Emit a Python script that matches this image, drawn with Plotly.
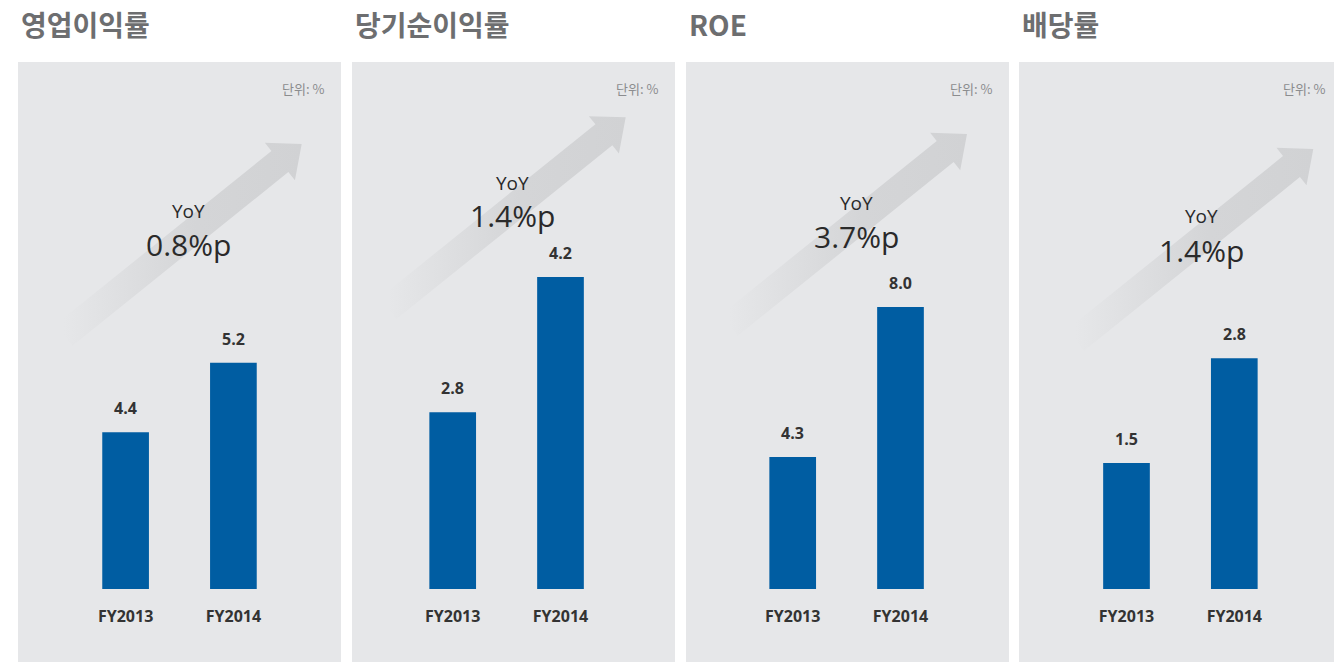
"""
Four small KPI panels (operating margin, net margin, ROE, dividend rate)
FY2013 vs FY2014 with a YoY call-out and a faded arrow behind it.
"""
import math

import plotly.graph_objects as go

W, H = 1334, 662

# data
titles = ["영업이익률", "당기순이익률", "ROE", "배당률"]
years = ["FY2013", "FY2014"]
fy2013 = [4.4, 2.8, 4.3, 1.5]
fy2014 = [5.2, 4.2, 8.0, 2.8]
yoy_text = ["0.8%p", "1.4%p", "3.7%p", "1.4%p"]
unit_text = "단위: %"

# layout per panel (pixels in the 1334x662 page)
panel_left = [18, 352, 686, 1019]
panel_w = 323
panel_top = 62
bar_left = [71.7, 398.8, 738.8, 1072.6]
bar_span = 215.6
plot_bottom, plot_top = 589, 100
y_ranges = [(2.599, 8.220), (0.972, 6.032), (1.044, 13.106), (-0.064, 6.007)]
yoy_pos = [(188, 211, 244), (512.5, 183, 215), (856, 203, 237), (1201, 216, 250)]
arrow_tip = [(301.7, 144), (625.7, 117.3), (967, 134), (1313.3, 149)]

BLUE = "#005da2"
PANEL = "#e6e7e9"
ARROW = "209,210,212"


def px(x):
    return x / W


def py(y):
    return 1 - y / H


def arrow_path(tip, length=305, head_len=28, head_half=24, shaft_half=13.5, angle=38.8):
    """polygon (pixel coords, y down) for an arrow pointing up-right"""
    a = math.radians(angle)
    dx, dy = math.cos(a), -math.sin(a)
    nx, ny = -dy, dx
    tx, ty = tip
    bx, by = tx - head_len * dx, ty - head_len * dy
    ex, ey = tx - length * dx, ty - length * dy
    pts = [
        (tx, ty),
        (bx + head_half * nx, by + head_half * ny),
        (bx + shaft_half * nx, by + shaft_half * ny),
        (ex + shaft_half * nx, ey + shaft_half * ny),
        (ex - shaft_half * nx, ey - shaft_half * ny),
        (bx - shaft_half * nx, by - shaft_half * ny),
        (bx - head_half * nx, by - head_half * ny),
        (tx, ty),
    ]
    return [p[0] for p in pts], [p[1] for p in pts], ex


fig = go.Figure()

# decorative arrows on a full-page pixel axis (drawn first, so underneath)
for tip in arrow_tip:
    xs, ys, tail_x = arrow_path(tip)
    fig.add_trace(go.Scatter(
        x=xs, y=ys, mode="lines", fill="toself",
        line=dict(width=0, color="rgba(0,0,0,0)"),
        fillgradient=dict(
            type="horizontal", start=tail_x, stop=tip[0],
            colorscale=[[0, f"rgba({ARROW},0)"], [0.55, f"rgba({ARROW},0.85)"],
                        [1, f"rgba({ARROW},1)"]],
        ),
        hoverinfo="skip", xaxis="x", yaxis="y",
    ))

annotations = []
shapes = []
layout_axes = dict(
    xaxis=dict(domain=[0, 1], range=[0, W], visible=False, fixedrange=True),
    yaxis=dict(domain=[0, 1], range=[H, 0], visible=False, fixedrange=True),
)

for i in range(4):
    k = i + 2
    lo, hi = y_ranges[i]
    vals = [fy2013[i], fy2014[i]]
    # bars start at the bottom of the (non-zero) axis range
    fig.add_trace(go.Bar(
        x=years, y=[v - lo for v in vals], base=[lo, lo],
        marker_color=BLUE, marker_line_width=0,
        xaxis=f"x{k}", yaxis=f"y{k}", hoverinfo="skip",
    ))
    layout_axes[f"xaxis{k}"] = dict(
        domain=[px(bar_left[i]), px(bar_left[i] + bar_span)], anchor=f"y{k}",
        type="category", showgrid=False, zeroline=False, showline=False,
        ticks="outside", ticklen=13, tickcolor="rgba(0,0,0,0)",
        tickfont=dict(family="Open Sans", size=16, color="#333333", weight="bold"),
    )
    layout_axes[f"yaxis{k}"] = dict(
        domain=[py(plot_bottom), py(plot_top)], anchor=f"x{k}",
        range=[lo, hi], visible=False,
    )

    # panel background
    shapes.append(dict(
        type="rect", xref="paper", yref="paper", layer="below",
        x0=px(panel_left[i]), x1=px(panel_left[i] + panel_w), y0=0, y1=py(panel_top),
        fillcolor=PANEL, line=dict(width=0),
    ))

    # value labels
    for yr, val in zip(years, vals):
        annotations.append(dict(
            xref=f"x{k}", yref=f"y{k}", x=yr, y=val, yshift=24, showarrow=False,
            text=f"{val:.1f}", yanchor="middle",
            font=dict(family="Open Sans", size=16, color="#333333", weight="bold"),
        ))

    # title
    annotations.append(dict(
        xref="paper", yref="paper", x=px(panel_left[i] + 1), y=py(24),
        xanchor="left", yanchor="middle", showarrow=False, text=titles[i],
        font=dict(family="Noto Sans CJK KR", size=28, color="#6d6e70", weight="bold"),
    ))

    # unit
    annotations.append(dict(
        xref="paper", yref="paper", x=px(panel_left[i] + 308), y=py(88),
        xanchor="right", yanchor="middle", showarrow=False, text=unit_text,
        font=dict(family="Noto Sans CJK KR", size=13, color="#8b8c8e"),
    ))

    # YoY call-out
    cx, y1, y2 = yoy_pos[i]
    annotations.append(dict(
        xref="paper", yref="paper", x=px(cx), y=py(y1), xanchor="center",
        yanchor="middle", showarrow=False, text="YoY",
        font=dict(family="Open Sans", size=19, color="#2a2a2a"),
    ))
    annotations.append(dict(
        xref="paper", yref="paper", x=px(cx), y=py(y2), xanchor="center",
        yanchor="middle", showarrow=False, text=yoy_text[i],
        font=dict(family="Open Sans", size=30, color="#2a2a2a"),
    ))

fig.update_layout(
    width=W, height=H, margin=dict(l=0, r=0, t=0, b=0),
    paper_bgcolor="white", plot_bgcolor="rgba(0,0,0,0)",
    showlegend=False, bargap=0.567,
    shapes=shapes, annotations=annotations,
    **layout_axes,
)

fig.write_html(
    "out.html",
    config={"displayModeBar": False},
    post_script="document.body.style.margin = '0';",
)
